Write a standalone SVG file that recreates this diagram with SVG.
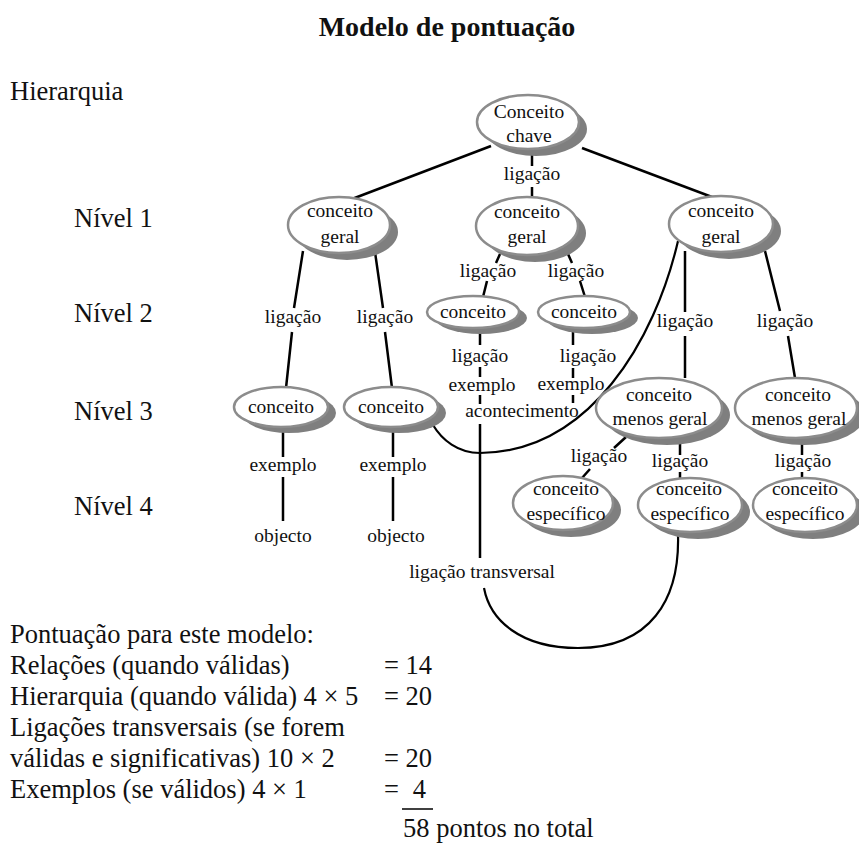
<svg xmlns="http://www.w3.org/2000/svg" width="859" height="843" viewBox="0 0 859 843">
<style>
text{font-family:"Liberation Serif","Times New Roman",serif;fill:#111}
.t{font-size:19.5px;text-anchor:middle}
.b{font-size:26.5px}
.title{font-size:28px;font-weight:bold;text-anchor:middle}
.sh{fill:#7f7f7f}
.el{fill:#fff;stroke:#8c8c8c;stroke-width:2.5}
.ln{stroke:#000;stroke-width:2.5;fill:none}
.cv{stroke:#000;stroke-width:2.2;fill:none}
</style>
<rect width="859" height="843" fill="#fff"/>
<text class="title" x="447" y="36">Modelo de pontuação</text>
<g id="levels">
<text class="b" x="10" y="100">Hierarquia</text>
<text class="b" x="74" y="227">Nível 1</text>
<text class="b" x="74" y="322">Nível 2</text>
<text class="b" x="74" y="420">Nível 3</text>
<text class="b" x="74" y="515">Nível 4</text>
</g>
<g id="connectors">
<path class="ln" d="M491,146 L352,199"/>
<path class="ln" d="M582,148 L712,197"/>
<path class="ln" d="M532,150 L532,166 M532,187 L532,197"/>
<path class="ln" d="M303,251 L294,308 M292,332 L286,388"/>
<path class="ln" d="M375,252 L383,308 M385,332 L392,388"/>
<path class="ln" d="M500,254 L496,263 M568,254 L572,263 M487,281 L483,297 M580,281 L585,297"/>
<path class="ln" d="M480,328 L480,345 M480,367 L480,377 M480,395 L480,404 M480,424 L480,558"/>
<path class="ln" d="M573,328 L573,345 M573,368 L573,378 M573,395 L573,403"/>
<path class="ln" d="M685,251 L685,312 M685,336 L685,378 M765,251 L780,311 M788,336 L795,378"/>
<path class="ln" d="M283,427 L283,457 M283,477 L283,521 M393,427 L393,457 M393,477 L393,521"/>
<path class="ln" d="M626,437 L614,448 M590,469 L582,478 M680,438 L680,455 M680,472 L680,478 M802,438 L802,455 M802,472 L802,478"/>
<path class="cv" d="M678,241 C655,340 590,452 480,453 C458,453 442,440 433,425"/>
<path class="cv" d="M678,534 C680,600 650,648 578,648 C520,648 490,620 484,588"/>
<text class="t" x="532" y="180">ligação</text>
<text class="t" x="293" y="323">ligação</text>
<text class="t" x="385" y="323">ligação</text>
<text class="t" x="488" y="277">ligação</text>
<text class="t" x="576" y="277">ligação</text>
<text class="t" x="480" y="362">ligação</text>
<text class="t" x="482" y="391">exemplo</text>
<text class="t" x="522" y="417">acontecimento</text>
<text class="t" x="588" y="362">ligação</text>
<text class="t" x="571" y="390">exemplo</text>
<text class="t" x="685" y="327">ligação</text>
<text class="t" x="785" y="327">ligação</text>
<text class="t" x="283" y="471">exemplo</text>
<text class="t" x="283" y="542">objecto</text>
<text class="t" x="393" y="471">exemplo</text>
<text class="t" x="396" y="542">objecto</text>
<text class="t" x="599" y="462">ligação</text>
<text class="t" x="680" y="467">ligação</text>
<text class="t" x="803" y="467">ligação</text>
<text class="t" x="482" y="578">ligação transversal</text>
</g>
<g id="n-chave">
<ellipse class="sh" cx="536" cy="129" rx="51" ry="27"/>
<ellipse class="el" cx="528" cy="122" rx="51" ry="27"/>
<text class="t" x="529" y="118">Conceito</text>
<text class="t" x="529" y="142">chave</text>
</g>
<g id="n-geral-1">
<ellipse class="sh" cx="347" cy="232" rx="51" ry="28"/>
<ellipse class="el" cx="339" cy="225" rx="51" ry="28"/>
<text class="t" x="340" y="217">conceito</text>
<text class="t" x="340" y="243">geral</text>
</g>
<g id="n-geral-2">
<ellipse class="sh" cx="535" cy="233" rx="51" ry="29"/>
<ellipse class="el" cx="527" cy="226" rx="51" ry="29"/>
<text class="t" x="527" y="218">conceito</text>
<text class="t" x="527" y="243">geral</text>
</g>
<g id="n-geral-3">
<ellipse class="sh" cx="729" cy="231" rx="52" ry="28"/>
<ellipse class="el" cx="721" cy="224" rx="52" ry="28"/>
<text class="t" x="721" y="217">conceito</text>
<text class="t" x="721" y="243">geral</text>
</g>
<g id="n-c2a">
<ellipse class="sh" cx="481" cy="318" rx="46" ry="16"/>
<ellipse class="el" cx="473" cy="312" rx="46" ry="16"/>
<text class="t" x="473" y="318">conceito</text>
</g>
<g id="n-c2b">
<ellipse class="sh" cx="592" cy="318" rx="46" ry="16"/>
<ellipse class="el" cx="584" cy="312" rx="46" ry="16"/>
<text class="t" x="584" y="318">conceito</text>
</g>
<g id="n-c3a">
<ellipse class="sh" cx="289" cy="413" rx="47" ry="20"/>
<ellipse class="el" cx="281" cy="407" rx="47" ry="20"/>
<text class="t" x="281" y="413">conceito</text>
</g>
<g id="n-c3b">
<ellipse class="sh" cx="399" cy="413" rx="47" ry="20"/>
<ellipse class="el" cx="391" cy="407" rx="47" ry="20"/>
<text class="t" x="391" y="413">conceito</text>
</g>
<g id="n-mg1">
<ellipse class="sh" cx="667" cy="415" rx="63" ry="30"/>
<ellipse class="el" cx="659" cy="408" rx="63" ry="30"/>
<text class="t" x="659" y="401">conceito</text>
<text class="t" x="660" y="425">menos geral</text>
</g>
<g id="n-mg2">
<ellipse class="sh" cx="804" cy="415" rx="61" ry="30"/>
<ellipse class="el" cx="796" cy="408" rx="61" ry="30"/>
<text class="t" x="798" y="401">conceito</text>
<text class="t" x="799" y="425">menos geral</text>
</g>
<g id="n-e1">
<ellipse class="sh" cx="571" cy="510" rx="50" ry="27"/>
<ellipse class="el" cx="563" cy="503" rx="50" ry="27"/>
<text class="t" x="566" y="495">conceito</text>
<text class="t" x="566" y="520">específico</text>
</g>
<g id="n-e2">
<ellipse class="sh" cx="698" cy="512" rx="52" ry="27"/>
<ellipse class="el" cx="690" cy="505" rx="52" ry="27"/>
<text class="t" x="689" y="495">conceito</text>
<text class="t" x="690" y="520">específico</text>
</g>
<g id="n-e3">
<ellipse class="sh" cx="813" cy="512" rx="52" ry="27"/>
<ellipse class="el" cx="805" cy="505" rx="52" ry="27"/>
<text class="t" x="805" y="495">conceito</text>
<text class="t" x="805" y="520">específico</text>
</g>
<g id="score">
<text class="b" x="10" y="643">Pontuação para este modelo:</text>
<text class="b" x="10" y="674">Relações (quando válidas)</text>
<text class="b" x="384" y="674">= 14</text>
<text class="b" x="10" y="705">Hierarquia (quando válida) 4 × 5</text>
<text class="b" x="384" y="705">= 20</text>
<text class="b" x="10" y="736">Ligações transversais (se forem</text>
<text class="b" x="10" y="767">válidas e significativas) 10 × 2</text>
<text class="b" x="384" y="767">= 20</text>
<text class="b" x="10" y="798">Exemplos (se válidos) 4 × 1</text>
<text class="b" x="384" y="798">=</text>
<text class="b" x="426" y="798" text-anchor="end">4</text>
<line x1="402" y1="809" x2="433" y2="809" stroke="#000" stroke-width="1.5"/>
<text class="b" x="403" y="837">58 pontos no total</text>
</g>
</svg>
